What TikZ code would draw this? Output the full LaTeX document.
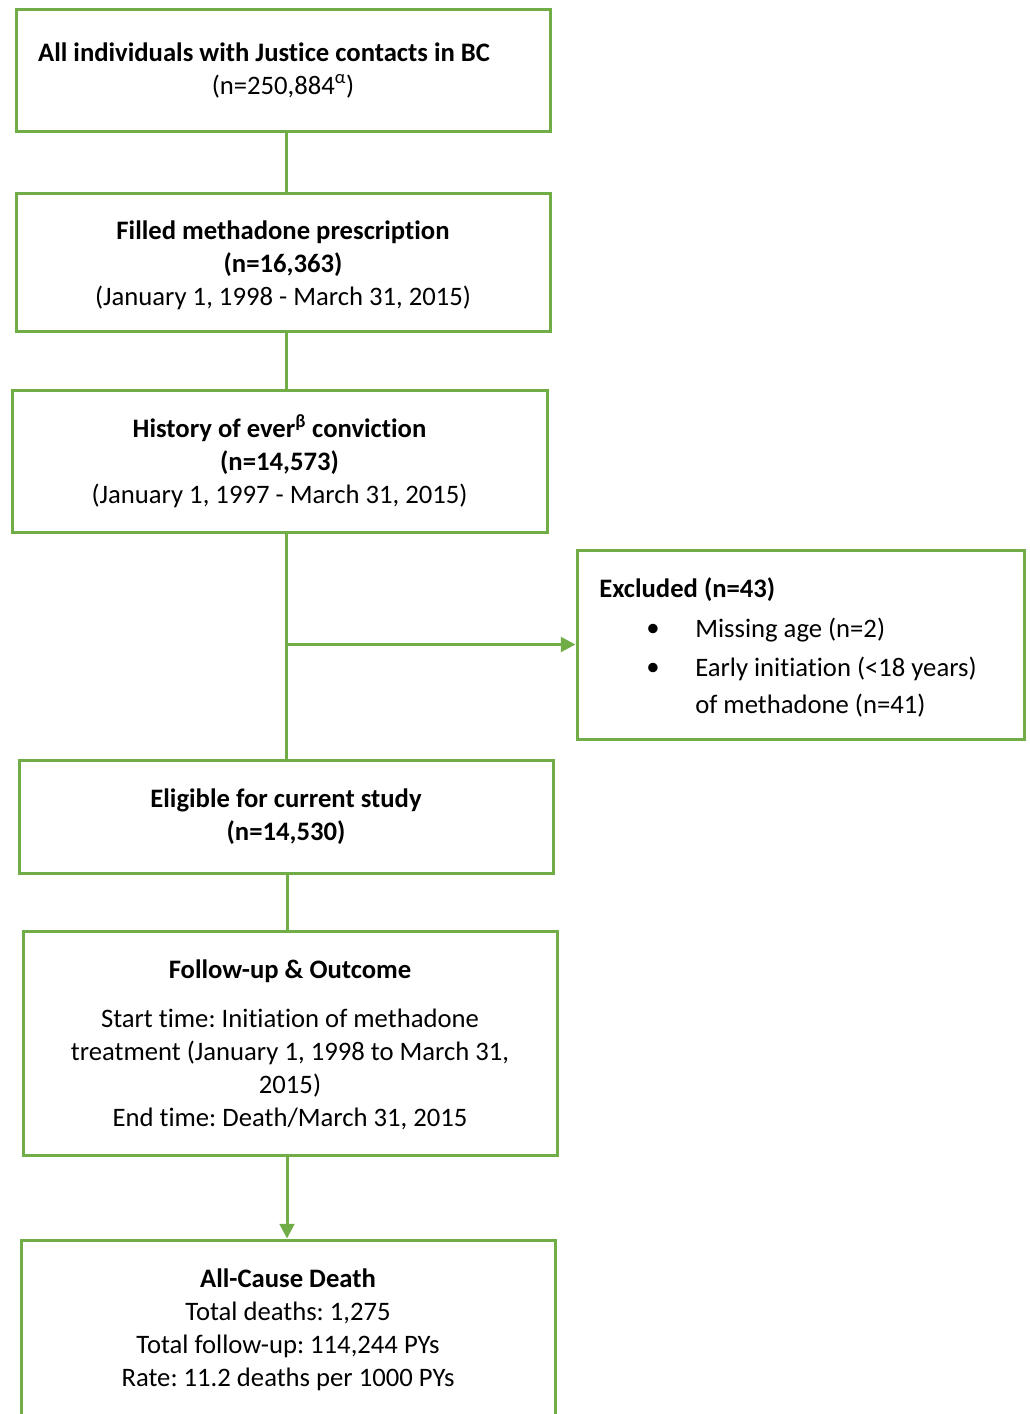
\documentclass[tikz,border=0pt]{standalone}
\usepackage{fontspec}
\setmainfont[RawFeature={-liga;-clig;-calt;-dlig}]{Carlito}
\usetikzlibrary{arrows.meta}
\definecolor{grn}{RGB}{112,173,71}
\frenchspacing
\begin{document}
\begin{tikzpicture}[x=0.75pt,y=-0.75pt,
  box/.style={draw=grn,line width=2.25pt,rectangle,inner sep=0pt,align=center,
    font=\fontsize{20}{24.75}\selectfont\frenchspacing},
  txt/.style={inner sep=0pt,font=\fontsize{20}{24.75}\selectfont\frenchspacing},
  conn/.style={draw=grn,line width=2.25pt},
  arr/.style={conn,-{Triangle[length=11pt,width=11pt]}}]
\useasboundingbox (0,0) rectangle (1030,1414);
\clip (0,0) rectangle (1030,1414);

\node[box,minimum width=534*0.75pt,minimum height=122*0.75pt] (b1) at (283,70)
  {\textbf{All individuals with Justice contacts in BC}\hspace{28.5pt}\hbox{}\\(n=250,884\textsuperscript{α})};
\node[box,minimum width=534*0.75pt,minimum height=138*0.75pt] (b2) at (283,262) {};
\node[txt,align=center] (b2t) at (283,265)
  {\textbf{Filled methadone prescription}\\\textbf{(n=16,363)}\\(January 1, 1998 - March 31, 2015)};
\node[box,minimum width=535*0.75pt,minimum height=142*0.75pt] (b3) at (279.5,461)
  {\textbf{History of ever\textsuperscript{β} conviction}\\\textbf{(n=14,573)}\\(January 1, 1997 - March 31, 2015)};
\node[box,minimum width=447*0.75pt,minimum height=189*0.75pt] (ex) at (800.5,644.5) {};
\node[txt,anchor=west] (ex1) at (599,590) {\textbf{Excluded (n=43)}};
\node[txt] (bul1) at (653,630) {•};
\node[txt,anchor=west] (ex2) at (695,630) {Missing age (n=2)};
\node[txt] (bul2) at (653,669) {•};
\node[txt,anchor=west] (ex3) at (695,669) {Early initiation (<18 years)};
\node[txt,anchor=west] (ex4) at (695,706) {of methadone (n=41)};
\node[box,minimum width=534*0.75pt,minimum height=113*0.75pt] (b4) at (286,816.5)
  {\textbf{Eligible for current study}\\\textbf{(n=14,530)}};
\node[box,minimum width=534*0.75pt,minimum height=224*0.75pt] (b5) at (290,1043) {};
\node[txt,align=center] (b5t) at (290,1045)
  {\textbf{Follow-up \& Outcome}\\[12pt]Start time: Initiation of methadone\\treatment (January 1, 1998 to March 31,\\2015)\\End time: Death/March 31, 2015};
\node[box,minimum width=534*0.75pt,minimum height=210*0.75pt] (b6) at (288,1345) {};
\node[txt,align=center] (b6t) at (288,1330)
  {\textbf{All-Cause Death}\\Total deaths: 1,275\\Total follow-up: 114,244 PYs\\Rate: 11.2 deaths per 1000 PYs};

\draw[conn] (b1.south -| 286,0) -- (b2.north -| 286,0);
\draw[conn] (b2.south -| 286,0) -- (b3.north -| 286,0);
\draw[conn] (b3.south -| b4.north) -- (b4.north);
\coordinate (br) at (b4.north |- ex.west);
\draw[arr] (br) -- (ex.west);
\draw[conn] (b4.south -| 287,0) -- (b5.north -| 287,0);
\draw[arr] (b5.south -| 287,0) -- (b6.north -| 287,0);
\end{tikzpicture}
\end{document}
